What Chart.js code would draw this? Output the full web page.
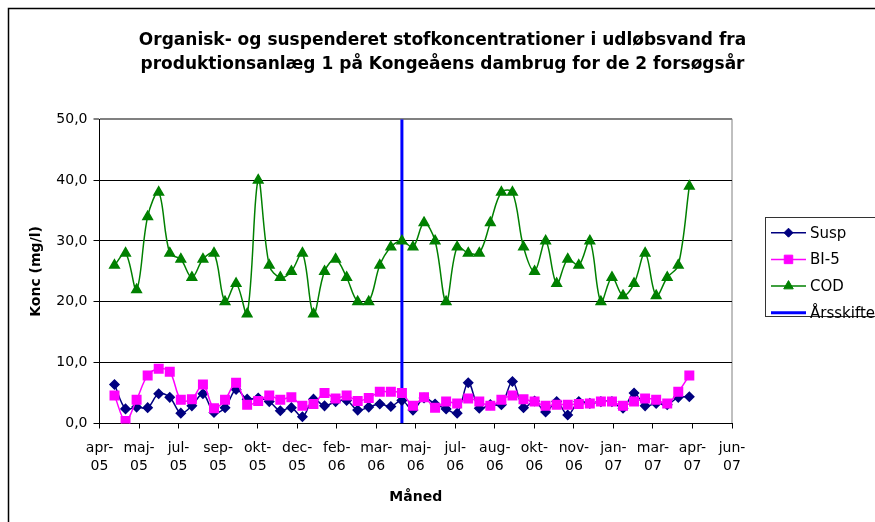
<!DOCTYPE html>
<html>
<head>
<meta charset="utf-8">
<script src="https://cdn.jsdelivr.net/npm/chart.js@4/dist/chart.umd.min.js"></script>
<style>
  html, body { margin: 0; padding: 0; background: #fff; overflow: hidden; }
  #wrap { width: 875px; height: 522px; }
</style>
</head>
<body>
<div id="wrap"><canvas id="chart" width="875" height="522"></canvas></div>
<script>
// prøvetagninger, ca. hver 14. dag (index 0..52)
const susp = [6.4, 2.4, 2.7, 2.6, 4.9, 4.3, 1.7, 2.9, 4.9, 1.8, 2.6, 5.6, 4.0,
  4.2, 3.6, 2.1, 2.6, 1.1, 4.0, 2.9, 3.6, 3.8, 2.2, 2.7, 3.2, 2.8, 3.8,
  2.2, 4.2, 3.2, 2.4, 1.7, 6.7, 2.5, 3.1, 3.1, 6.9, 2.6, 3.7, 1.9,
  3.6, 1.4, 3.6, 3.3, 3.6, 3.6, 2.5, 5.0, 2.9, 3.3, 3.1, 4.3, 4.4];
const bi5 = [4.6, 0.4, 3.9, 7.9, 9.0, 8.5, 3.9, 4.0, 6.4, 2.5, 3.9, 6.7, 3.1,
  3.7, 4.6, 3.9, 4.3, 2.9, 3.2, 5.0, 4.1, 4.6, 3.7, 4.2, 5.2, 5.2, 5.0,
  2.9, 4.3, 2.6, 3.6, 3.3, 4.1, 3.6, 2.9, 3.9, 4.6, 4.0, 3.6, 2.9,
  3.1, 3.1, 3.2, 3.3, 3.6, 3.6, 2.9, 3.6, 4.1, 3.9, 3.3, 5.2, 7.9];
const cod = [26, 28, 22, 34, 38, 28, 27, 24, 27, 28, 20, 23, 18, 40, 26, 24, 25, 28, 18, 25,
  27, 24, 20, 20, 26, 29, 30,
  29, 33, 30, 20, 29, 28, 28, 33, 38, 38, 29, 25, 30, 23, 27, 26, 30, 20, 24, 21,
  23, 28, 21, 24, 26, 39];
const yearShiftSample = 26;   // Årsskifte
const monthLabels = ['apr-05', 'maj-05', 'jul-05', 'sep-05', 'okt-05', 'dec-05', 'feb-06',
  'mar-06', 'maj-06', 'jul-06', 'aug-06', 'okt-06', 'nov-06', 'jan-07', 'mar-07', 'apr-07', 'jun-07'];
const yTicks = [0, 10, 20, 30, 40, 50];

// akse-layout i prøve-index
const axisStart = -1.356;
const labelStep = 3.576;

Chart.defaults.font.family = 'DejaVu Sans';
Chart.defaults.color = '#000';

const toPoints = arr => arr.map((v, i) => ({x: i, y: v}));

const frame = {
  id: 'frame',
  beforeDraw(chart) {
    const ctx = chart.ctx, a = chart.chartArea;
    ctx.save();
    ctx.fillStyle = '#fff';
    ctx.fillRect(0, 0, chart.width, chart.height);
    ctx.strokeStyle = '#000';
    ctx.lineWidth = 1.5;
    ctx.beginPath();
    ctx.moveTo(8.5, chart.height);
    ctx.lineTo(8.5, 8.5);
    ctx.lineTo(chart.width, 8.5);
    ctx.stroke();
    // plot-område kant
    ctx.strokeStyle = '#808080';
    ctx.lineWidth = 1;
    ctx.strokeRect(a.left, a.top, a.right - a.left, a.bottom - a.top);
    ctx.restore();
  },
  afterDraw(chart) {
    const ctx = chart.ctx;
    const box = {x: 765.5, y: 217.5, w: 140, h: 99};
    ctx.save();
    ctx.fillStyle = '#fff';
    ctx.fillRect(box.x, box.y, box.w, box.h);
    ctx.strokeStyle = '#333';
    ctx.lineWidth = 1;
    ctx.strokeRect(box.x, box.y, box.w, box.h);
    ctx.font = '15px "DejaVu Sans"';
    ctx.textBaseline = 'middle';
    chart.data.datasets.forEach((ds, i) => {
      const y = 232.7 + i * 26.7;
      ctx.strokeStyle = ds.borderColor;
      ctx.lineWidth = ds.borderWidth;
      ctx.beginPath();
      ctx.moveTo(771, y);
      ctx.lineTo(806, y);
      ctx.stroke();
      if (ds.pointRadius > 0) {
        ctx.fillStyle = ds.pointBackgroundColor;
        ctx.strokeStyle = ds.borderColor;
        ctx.lineWidth = 1;
        Chart.helpers.drawPoint(ctx, {pointStyle: ds.pointStyle, radius: ds.pointRadius, borderWidth: 1}, 788.5, y);
      }
      ctx.fillStyle = '#000';
      ctx.fillText(ds.label, 810, y + 1);
    });
    ctx.restore();
  }
};

new Chart(document.getElementById('chart'), {
  type: 'line',
  data: {
    datasets: [{
      label: 'Susp',
      data: toPoints(susp),
      borderColor: '#000080',
      backgroundColor: '#000080',
      pointBackgroundColor: '#000080',
      pointStyle: 'rectRot',
      pointRadius: 4.5,
      borderWidth: 1.5,
      tension: 0.35,
      order: 3
    }, {
      label: 'BI-5',
      data: toPoints(bi5),
      borderColor: '#FF00FF',
      backgroundColor: '#FF00FF',
      pointBackgroundColor: '#FF00FF',
      pointStyle: 'rect',
      pointRadius: 6,
      borderWidth: 1.5,
      tension: 0.35,
      order: 2
    }, {
      label: 'COD',
      data: toPoints(cod),
      borderColor: '#008000',
      backgroundColor: '#008000',
      pointBackgroundColor: '#008000',
      pointStyle: 'triangle',
      pointRadius: 5.5,
      borderWidth: 1.5,
      tension: 0.35,
      order: 1
    }, {
      label: 'Årsskifte',
      data: [{x: yearShiftSample, y: yTicks[0]}, {x: yearShiftSample, y: yTicks[yTicks.length - 1]}],
      borderColor: '#0000FF',
      backgroundColor: '#0000FF',
      pointRadius: 0,
      borderWidth: 3,
      tension: 0,
      order: 4
    }]
  },
  options: {
    responsive: false,
    animation: false,
    events: [],
    layout: {padding: {left: 10, top: 0, right: 0, bottom: 0}},
    plugins: {
      legend: {display: false},
      tooltip: {enabled: false},
      title: {
        display: true,
        text: ['Organisk- og suspenderet stofkoncentrationer i udløbsvand fra',
               'produktionsanlæg 1 på Kongeåens dambrug for de 2 forsøgsår'],
        font: {size: 17, weight: 'bold', lineHeight: '24px'},
        color: '#000',
        padding: {top: 29, bottom: 42.3}
      }
    },
    scales: {
      x: {
        type: 'linear',
        min: axisStart,
        max: axisStart + labelStep * (monthLabels.length - 1),
        afterBuildTicks: s => { s.ticks = monthLabels.map((_, k) => ({value: axisStart + k * labelStep})); },
        afterFit: s => { s.height = 98.5; },
        ticks: {
          autoSkip: false, maxRotation: 0, minRotation: 0, padding: 10,
          font: {size: 14, lineHeight: 1.35},
          callback: (v, i) => { const p = monthLabels[i].split('-'); return [p[0] + '-', p[1]]; }
        },
        grid: {drawOnChartArea: false, drawTicks: true, tickLength: 5, color: '#000'},
        border: {color: '#000', width: 1},
        title: {display: true, text: 'Måned', font: {size: 14, weight: 'bold'}, padding: {top: 0, bottom: 16.6}}
      },
      y: {
        min: yTicks[0],
        max: yTicks[yTicks.length - 1],
        afterBuildTicks: s => { s.ticks = yTicks.map(v => ({value: v})); },
        afterFit: s => { s.width = 89.5; },
        ticks: {
          padding: 6, font: {size: 14},
          callback: v => v.toFixed(1).replace('.', ',')
        },
        grid: {
          color: c => c.tick && c.tick.value === 50 ? '#808080' : '#000',
          lineWidth: c => c.tick && c.tick.value === 50 ? 2 : 1,
          tickLength: 6
        },
        border: {color: '#000', width: 1},
        title: {display: true, text: 'Konc (mg/l)', font: {size: 14, weight: 'bold'}, padding: {top: 18.3, bottom: 0}}
      },
      y2: {
        position: 'right',
        display: true,
        grid: {display: false},
        ticks: {display: false},
        border: {display: false},
        afterFit: s => { s.width = 143; }
      }
    }
  },
  plugins: [frame]
});
</script>
</body>
</html>
